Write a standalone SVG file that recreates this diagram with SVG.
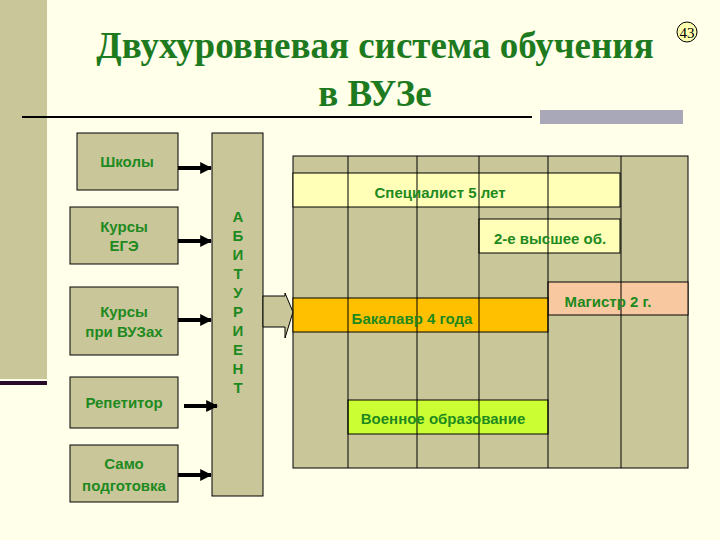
<svg xmlns="http://www.w3.org/2000/svg" width="720" height="540" viewBox="0 0 720 540">
<style>
.b{fill:#C9C69A;stroke:#000;stroke-width:1}
.t{font-family:"Liberation Sans",Arial,sans-serif;font-weight:bold;fill:#1E8A1E;font-size:15px;text-anchor:middle}
.g{stroke:#000;stroke-width:1;fill:none}
.a{stroke:#000;stroke-width:4;marker-end:url(#ah)}
</style>
<defs><marker id="ah" viewBox="0 0 10 10" refX="9" refY="5" markerWidth="3" markerHeight="3" orient="auto"><path d="M0,0L10,5L0,10z" fill="#000"/></marker></defs>
<rect width="720" height="540" fill="#FFFFEA"/>
<rect x="0" y="0" width="47" height="379" fill="#C9C69A"/>
<rect x="0" y="381" width="47" height="4" fill="#2A0A2A"/>
<g id="title">
<text x="375" y="58" font-family="Liberation Serif,serif" font-weight="bold" font-size="37" fill="#1E7A1E" text-anchor="middle">Двухуровневая система обучения</text>
<text x="375" y="106" font-family="Liberation Serif,serif" font-weight="bold" font-size="37" fill="#1E7A1E" text-anchor="middle">в ВУЗе</text>
<line x1="22" y1="117" x2="532" y2="117" stroke="#000" stroke-width="2"/>
<rect x="540" y="110" width="143" height="14" fill="#A8A8B8"/>
<circle cx="687" cy="32" r="10" fill="#FFFFB0" stroke="#000"/>
<text x="687" y="38" font-family="Liberation Serif,serif" font-size="15" text-anchor="middle">43</text>
</g>
<g id="grid">
<rect x="293" y="156" width="395" height="312" class="b"/>
<rect x="293" y="173" width="327" height="34" fill="#FFFFB8" stroke="#000"/>
<rect x="479" y="219" width="141" height="34" fill="#FFFFB8" stroke="#000"/>
<rect x="548" y="282" width="140" height="33" fill="#F8C8A0" stroke="#000"/>
<rect x="293" y="298" width="255" height="34" fill="#FFC000" stroke="#000"/>
<rect x="348" y="400" width="200" height="34" fill="#CCFF33" stroke="#000"/>
<path class="g" d="M348,156V468M417,156V468M479,156V468M548,156V468M621,156V468"/>
<text class="t" x="440" y="198">Специалист 5 лет</text>
<text class="t" x="550" y="244" font-size="14">2-е высшее об.</text>
<text class="t" x="608" y="307">Магистр 2 г.</text>
<text class="t" x="412" y="324">Бакалавр 4 года</text>
<text class="t" x="443" y="424" font-size="14">Военное образование</text>
</g>
<g id="n1"><rect class="b" x="77" y="133" width="101" height="57"/><text class="t" x="127" y="167">Школы</text></g>
<g id="n2"><rect class="b" x="70" y="207" width="108" height="57"/><text class="t" x="124" y="232">Курсы</text><text class="t" x="124" y="251">ЕГЭ</text></g>
<g id="n3"><rect class="b" x="70" y="287" width="108" height="68"/><text class="t" x="124" y="317">Курсы</text><text class="t" x="124" y="337">при ВУЗах</text></g>
<g id="n4"><rect class="b" x="70" y="377" width="108" height="51"/><text class="t" x="124" y="408">Репетитор</text></g>
<g id="n5"><rect class="b" x="70" y="445" width="108" height="57"/><text class="t" x="124" y="469">Само</text><text class="t" x="124" y="491">подготовка</text></g>
<g id="abit"><rect class="b" x="212" y="133" width="51" height="363"/>
<text class="t" x="238" y="222" font-size="16"><tspan x="238">А</tspan><tspan x="238" dy="19">Б</tspan><tspan x="238" dy="19">И</tspan><tspan x="238" dy="19">Т</tspan><tspan x="238" dy="19">У</tspan><tspan x="238" dy="19">Р</tspan><tspan x="238" dy="19">И</tspan><tspan x="238" dy="19">Е</tspan><tspan x="238" dy="19">Н</tspan><tspan x="238" dy="19">Т</tspan></text></g>
<g id="connectors">
<line class="a" x1="178" y1="168" x2="211" y2="168"/>
<line class="a" x1="178" y1="241" x2="211" y2="241"/>
<line class="a" x1="178" y1="320" x2="211" y2="320"/>
<line class="a" x1="184" y1="406" x2="217" y2="406"/>
<line class="a" x1="178" y1="475" x2="211" y2="475"/>
<path d="M263,296H285V293L293,312L285,338V327H263Z" fill="#C9C69A" stroke="#000"/>
</g>
</svg>
